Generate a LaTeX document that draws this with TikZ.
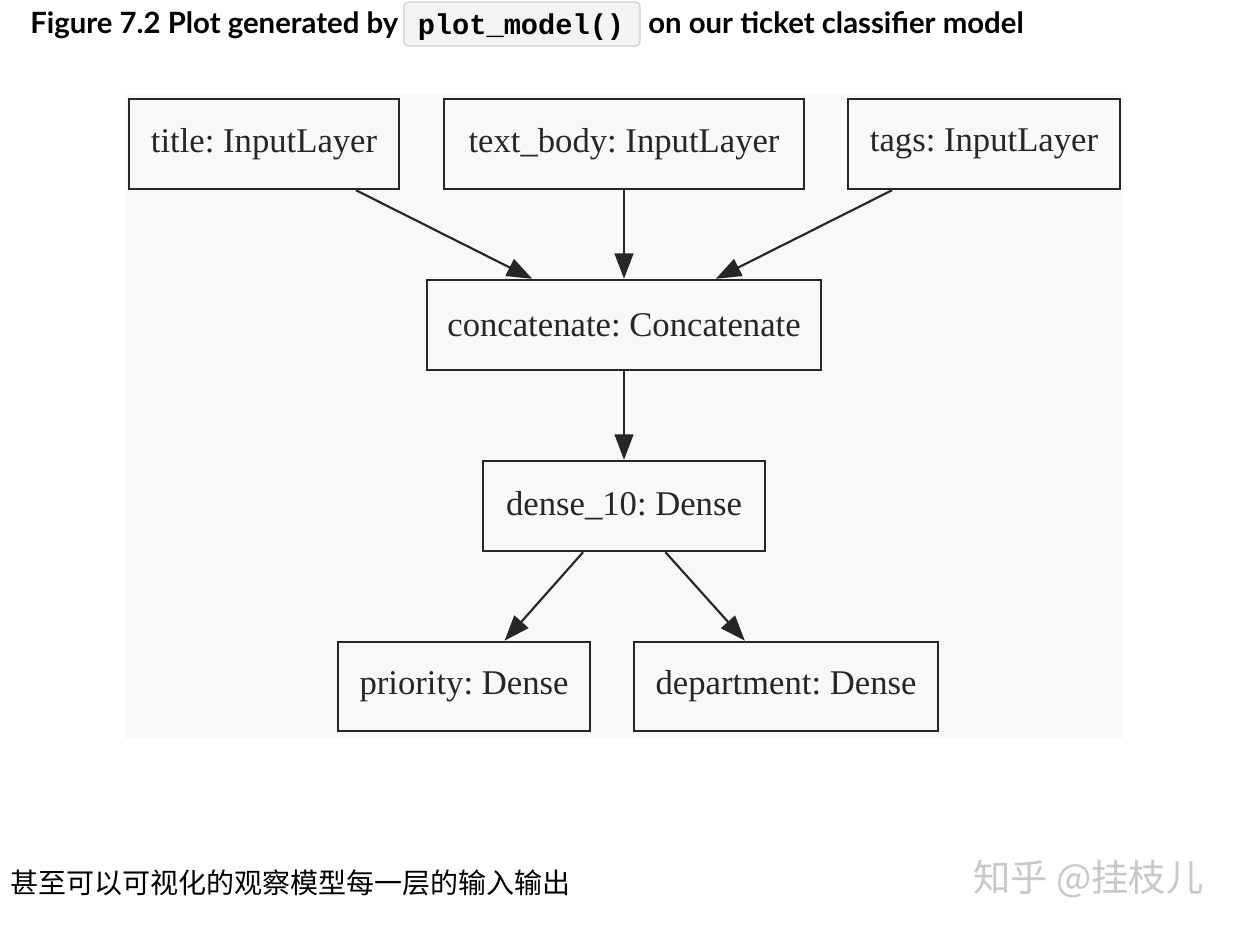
\documentclass[tikz,border=0pt]{standalone}
\usepackage{fontspec}
\setmainfont{Liberation Serif}
\newfontfamily\latofont{Lato}
\newfontfamily\codefont{Liberation Mono}
\newfontfamily\cjk{Noto Sans CJK SC}
\usetikzlibrary{arrows.meta}
\definecolor{plotbg}{RGB}{248,248,248}
\definecolor{codebg}{RGB}{243,243,243}
\definecolor{codeborder}{RGB}{205,205,205}
\definecolor{wmgray}{RGB}{200,200,200}
\tikzset{
  layer/.style={draw=black!85, line width=1.8pt, fill=plotbg, inner sep=0pt,
    minimum height=67.5pt, font=\frenchspacing\fontsize{26}{30}\selectfont, text=black!85},
  conn/.style={line width=1.6pt, draw=black!85, -{Triangle[length=19pt,width=14pt]}},
}
\begin{document}
\begin{tikzpicture}[x=0.75pt,y=-0.75pt]
\useasboundingbox[fill=white] (0,0) rectangle (1236,926);
% plot background
\fill[plotbg] (125,95) rectangle (1123,738);
% title line
\node[anchor=base west, inner sep=0pt, font=\latofont\bfseries\fontsize{22}{26}\selectfont] (cap1) at (30,33) {Figure 7.2 Plot generated by};
\node[draw=codeborder, fill=codebg, rounded corners=3pt, line width=0.8pt, minimum width=177pt, minimum height=33pt, inner sep=0pt] (code) at (522,24) {};
\node[anchor=base, inner sep=0pt, font=\codefont\bfseries\fontsize{21.5}{24}\selectfont] (codetext) at (521,34) {plot\_model()};
\node[anchor=base west, inner sep=0pt, font=\latofont\bfseries\fontsize{22}{26}\selectfont] (cap2) at (648,33) {on our ticket classifier model};
% layers
\node[layer, minimum width=202.5pt] (title) at (264,144) {title: InputLayer};
\node[layer, minimum width=270pt] (body) at (624,144) {text\_body: InputLayer};
\node[layer, minimum width=204pt] (tags) at (984,144) {tags: InputLayer};
\node[layer, minimum width=295.5pt] (concat) at (624,325) {concatenate: Concatenate};
\node[layer, minimum width=211.5pt] (dense) at (624,506) {dense\_10: Dense};
\node[layer, minimum width=189pt, minimum height=67pt] (prio) at (464,686.5) {priority: Dense};
\node[layer, minimum width=228pt, minimum height=67pt] (dept) at (786,686.5) {department: Dense};
% connectors
\draw[conn] (title) -- (concat);
\draw[conn] (body) -- (concat);
\draw[conn] (tags) -- (concat);
\draw[conn] (concat) -- (dense);
\draw[conn] (dense) -- (prio);
\draw[conn] (dense) -- (dept);
% bottom text
\node[anchor=base west, inner sep=0pt, font=\cjk\fontsize{21}{24}\selectfont] (note) at (10,893) {甚至可以可视化的观察模型每一层的输入输出};
\node[anchor=base west, inner sep=0pt, text=wmgray, font=\cjk\fontsize{28}{32}\selectfont] (wm) at (973,891) {知乎 @挂枝儿};
\end{tikzpicture}
\end{document}
